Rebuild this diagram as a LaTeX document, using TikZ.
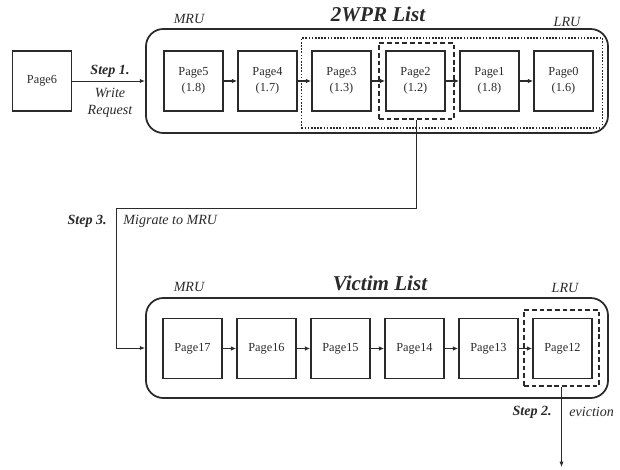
\documentclass[tikz,border=0pt]{standalone}
\usepackage{fontspec}
\setmainfont{Liberation Serif}
\usetikzlibrary{arrows.meta,positioning}
\definecolor{ink}{HTML}{2A2A2A}
\tikzset{
  x=0.03cm, y=-0.03cm,
  page/.style={draw=ink, line width=1.5pt, minimum width=1.77cm, minimum height=1.8cm, inner sep=0pt, align=center, font=\fontsize{10.5}{14}\selectfont, text=ink},
  listbox/.style={draw=ink, line width=1.5pt, rounded corners=0.52cm, minimum width=13.86cm, inner sep=0pt},
  dotbox/.style={draw=ink, line width=1.4pt, dash pattern=on 1.4pt off 1.3pt, inner sep=0pt},
  dashbox/.style={draw=ink, line width=1.5pt, dash pattern=on 4pt off 2.5pt, inner sep=0pt},
  link/.style={draw=ink, line width=1.5pt, -{Latex[length=4.5pt,width=4pt]}},
  flow/.style={draw=ink, line width=0.8pt, -{Latex[length=4.5pt,width=3.5pt]}},
  lab/.style={font=\fontsize{12}{14}\selectfont\itshape, text=ink, inner sep=1pt},
  steplab/.style={font=\fontsize{12}{14}\selectfont\bfseries\itshape, text=ink, inner sep=1pt},
  title/.style={font=\fontsize{18}{20}\selectfont\bfseries\itshape, text=ink, inner sep=1pt},
}
\begin{document}
\begin{tikzpicture}
\useasboundingbox (0,0) rectangle (620,469);
% top list
\node[listbox, minimum height=3.12cm] (list1) at (377,81) {};
\node[dotbox, minimum width=9.03cm, minimum height=2.7cm] (dots) at (452,83) {};
\node[page] (p6) at (42,81) {Page6};
\node[page] (p5) at (193.5,81) {Page5\\(1.8)};
\node[page] (p4) at (267.5,81) {Page4\\(1.7)};
\node[page] (p3) at (341.5,81) {Page3\\(1.3)};
\node[page] (p2) at (415.5,81) {Page2\\(1.2)};
\node[page] (p1) at (489.5,81) {Page1\\(1.8)};
\node[page] (p0) at (563.5,81) {Page0\\(1.6)};
\node[dashbox, minimum width=2.25cm, minimum height=2.28cm] (d2) at (416.5,81) {};
\draw[link] (p5) -- (p4);
\draw[link] (p4) -- (p3);
\draw[link] (p3) -- (p2);
\draw[link] (p2) -- (p1);
\draw[link] (p1) -- (p0);
\draw[flow] (p6) -- (list1.west);
\node[lab] (mru1) at (189,19) {MRU};
\node[lab] (lru1) at (567,22) {LRU};
\node[title] (t1) at (378,14) {2WPR List};
\node[steplab] (s1) at (110,71) {Step 1.};
\node[lab] (w1) at (110,93) {Write};
\node[lab] (w2) at (110,111) {Request};
% bottom list
\node[listbox, minimum height=3.0cm] (list2) at (377,348) {};
\node[page] (q17) at (192.5,348.5) {Page17};
\node[page] (q16) at (266.5,348.5) {Page16};
\node[page] (q15) at (340.5,348.5) {Page15};
\node[page] (q14) at (414.5,348.5) {Page14};
\node[page] (q13) at (488.5,348.5) {Page13};
\node[page] (q12) at (562.5,348.5) {Page12};
\node[dashbox, minimum width=2.25cm, minimum height=2.28cm] (d12) at (561.5,348) {};
\draw[link] (q17) -- (q16);
\draw[link] (q16) -- (q15);
\draw[link] (q15) -- (q14);
\draw[link] (q14) -- (q13);
\draw[link] (q13) -- (q12);
\node[lab] (mru2) at (189,287) {MRU};
\node[lab] (lru2) at (565,288) {LRU};
\node[title] (t2) at (380,283) {Victim List};
% migration
\coordinate (turn) at (116,208);
\draw[flow] (d2.south) |- (turn) |- (list2.west);
\node[steplab, anchor=east] (s3) at (108,221) {Step 3.};
\node[lab, anchor=west] (mig) at (122,221) {Migrate to MRU};
% eviction
\coordinate (out) at (561.5,467);
\draw[flow] (d12.south) -- (out);
\node[steplab, anchor=east] (s2) at (553,412) {Step 2.};
\node[lab, anchor=west] (ev) at (568,412) {eviction};
\end{tikzpicture}
\end{document}
